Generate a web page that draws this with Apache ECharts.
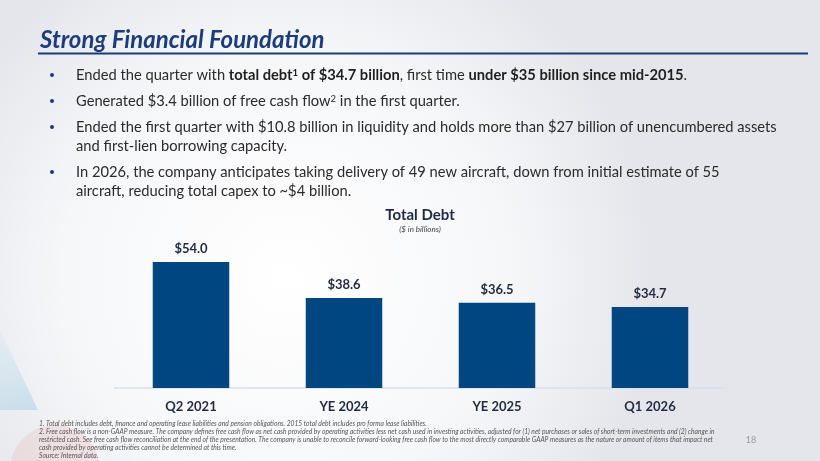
<!DOCTYPE html>
<html>
<head>
<meta charset="utf-8">
<script src="https://cdn.jsdelivr.net/npm/echarts@6/dist/echarts.min.js"></script>
<style>
  html, body { margin: 0; padding: 0; }
  #main { width: 820px; height: 461px; }
</style>
</head>
<body>
<div id="main"></div>
<script>
// data
var categories = ['Q2 2021', 'YE 2024', 'YE 2025', 'Q1 2026'];
var totalDebt = [54.0, 38.6, 36.5, 34.7];

var navy = '#004680';
var textDark = '#1f2a44';
var bodyFont = 'Lato, "Open Sans", sans-serif';

var footnotes = [
  '1. Total debt includes debt, finance and operating lease liabilities and pension obligations. 2015 total debt includes pro forma lease liabilities.',
  '2. Free cash flow is a non-GAAP measure. The company defines free cash flow as net cash provided by operating activities less net cash used in investing activities, adjusted for (1) net purchases or sales of short-term investments and (2) change in',
  'restricted cash. See free cash flow reconciliation at the end of the presentation. The company is unable to reconcile forward-looking free cash flow to the most directly comparable GAAP measures as the nature or amount of items that impact net',
  'cash provided by operating activities cannot be determined at this time.',
  'Source: Internal data.'
];

var fs = 14.7;
var richBase = {
  n: { fontFamily: bodyFont, fontSize: fs, fill: '#2b2b2b' },
  b: { fontFamily: bodyFont, fontSize: fs, fontWeight: 'bold', fill: '#1f1f1f' },
  s: { fontFamily: bodyFont, fontSize: 9.5, fill: '#2b2b2b', verticalAlign: 'top', lineHeight: 15 },
  sb: { fontFamily: bodyFont, fontSize: 9.5, fontWeight: 'bold', fill: '#1f1f1f', verticalAlign: 'top', lineHeight: 15 }
};

var bullets = [
  { y: 75, text: '{n|Ended the quarter with }{b|total debt}{sb|1}{b| of $34.7 billion}{n|, first time }{b|under $35 billion since mid-2015}{n|.}' },
  { y: 101, text: '{n|Generated $3.4 billion of free cash flow}{s|2}{n| in the first quarter.}' },
  { y: 127, text: '{n|Ended the first quarter with $10.8 billion in liquidity and holds more than $27 billion of unencumbered assets}' },
  { y: 146, text: '{n|and first-lien borrowing capacity.}', noDot: true },
  { y: 172, text: '{n|In 2026, the company anticipates taking delivery of 49 new aircraft, down from initial estimate of 55}' },
  { y: 191, text: '{n|aircraft, reducing total capex to ~$4 billion.}', noDot: true }
];

var graphics = [
  {
    type: 'rect', z: -10, silent: true,
    shape: { x: 0, y: 0, width: 820, height: 461 },
    style: {
      fill: new echarts.graphic.RadialGradient(0.35, 0.6, 0.8, [
        { offset: 0, color: '#ffffff' },
        { offset: 0.6, color: '#f6f7f9' },
        { offset: 1, color: '#e4e6eb' }
      ])
    }
  },
  {
    type: 'polygon', z: -9, silent: true,
    shape: { points: [[0, 330], [38, 410], [0, 410]] },
    style: {
      fill: new echarts.graphic.LinearGradient(0, 0, 1, 1, [
        { offset: 0, color: 'rgba(190,220,235,0.15)' },
        { offset: 1, color: 'rgba(170,210,230,0.6)' }
      ])
    }
  },
  {
    type: 'circle', z: -9, silent: true,
    shape: { cx: 55, cy: 470, r: 45 },
    style: { fill: 'rgba(235,150,150,0.18)' }
  },
  {
    type: 'text', x: 40, y: 40,
    style: {
      text: 'Strong Financial Foundation',
      fontFamily: bodyFont, fontSize: 24, fontWeight: 'bold', fontStyle: 'italic',
      fill: '#1b3c7d', verticalAlign: 'middle'
    }
  },
  {
    type: 'line', silent: true,
    shape: { x1: 38, y1: 53.5, x2: 808, y2: 53.5 },
    style: { stroke: '#1b3c7d', lineWidth: 2 }
  },
  {
    type: 'text', x: 751, y: 440,
    style: { text: '18', fontFamily: bodyFont, fontSize: 9, fill: '#9a9a9a', align: 'center', verticalAlign: 'middle' }
  },
  {
    type: 'text', x: 420, y: 215,
    style: { text: 'Total Debt', fontFamily: bodyFont, fontSize: 15, fontWeight: 'bold', fill: textDark, align: 'center', verticalAlign: 'middle' }
  },
  {
    type: 'text', x: 420, y: 229,
    style: { text: '($ in billions)', fontFamily: bodyFont, fontSize: 8, fontStyle: 'italic', fill: '#444', align: 'center', verticalAlign: 'middle' }
  }
];

bullets.forEach(function (b) {
  if (!b.noDot) {
    graphics.push({
      type: 'circle', silent: true,
      shape: { cx: 52, cy: b.y, r: 2 },
      style: { fill: '#1b3c7d' }
    });
  }
  graphics.push({
    type: 'text', x: 76, y: b.y,
    style: { text: b.text, rich: richBase, verticalAlign: 'middle', fontFamily: bodyFont, fontSize: fs }
  });
});

var fnY = [424, 432, 440, 448, 456];
footnotes.forEach(function (t, i) {
  graphics.push({
    type: 'text', x: 39, y: fnY[i],
    style: { text: t, fontFamily: bodyFont, fontSize: 6.7, fontStyle: 'italic', fill: '#555', verticalAlign: 'middle' }
  });
});

var myChart = echarts.init(document.getElementById('main'));
var option = {
  animation: false,
  grid: { left: 114.5, right: 820 - 726.5, top: 248, bottom: 73 },
  xAxis: {
    type: 'category',
    data: categories,
    axisLine: { lineStyle: { color: '#d6e0ea', width: 1.5 } },
    axisTick: { show: false },
    axisLabel: { color: textDark, fontFamily: bodyFont, fontSize: 13, fontWeight: 'bold', margin: 12 }
  },
  yAxis: {
    type: 'value', min: 0, max: 60, show: false,
    splitLine: { show: false }
  },
  series: [{
    type: 'bar',
    data: totalDebt,
    barWidth: '50%',
    itemStyle: { color: navy },
    label: {
      show: true, position: 'top', distance: 7,
      color: textDark, fontFamily: bodyFont, fontSize: 13, fontWeight: 'bold',
      formatter: function (p) { return '$' + p.value.toFixed(1); }
    }
  }],
  graphic: graphics
};
myChart.setOption(option);
window.addEventListener('resize', function () { myChart.resize(); });
</script>
</body>
</html>
